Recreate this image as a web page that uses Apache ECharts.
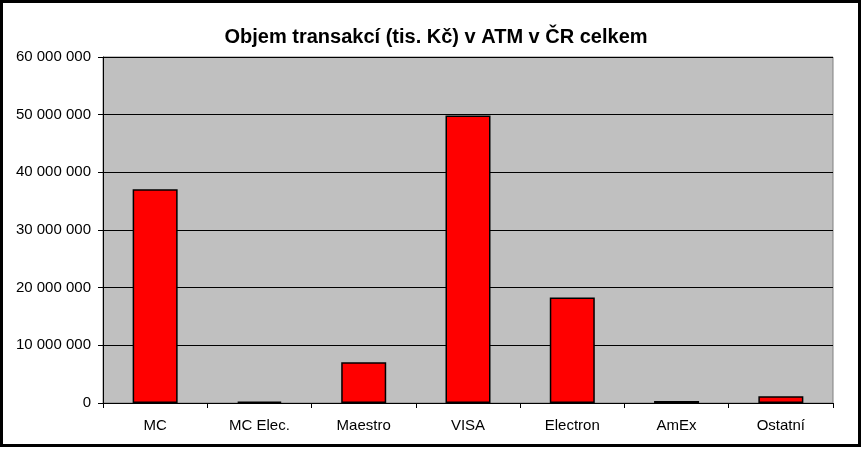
<!DOCTYPE html>
<html>
<head>
<meta charset="utf-8">
<script src="https://cdn.jsdelivr.net/npm/echarts@6/dist/echarts.min.js"></script>
<style>
    html, body { margin: 0; padding: 0; background: #fff; }
    #frame { position: absolute; left: 0; top: 0; width: 855px; height: 441px; border: 3px solid #000; }
    #chartDiv { position: absolute; left: 0; top: 0; width: 865px; height: 453px; }
</style>
</head>
<body>
<div id="frame"></div>
<div id="chartDiv"></div>
<script>
    // kategorie karet a objem transakcí (tis. Kč)
    var categories = ['MC', 'MC Elec.', 'Maestro', 'VISA', 'Electron', 'AmEx', 'Ostatní'];
    var objem = [37050000, 250000, 7050000, 49850000, 18300000, 350000, 1150000];

    function fmt(v) {
        return String(v).replace(/\B(?=(\d{3})+(?!\d))/g, ' ');
    }

    var chart = echarts.init(document.getElementById('chartDiv'));
    chart.setOption({
        animation: false,
        textStyle: { fontFamily: 'Liberation Sans, Arial, sans-serif' },
        title: {
            text: 'Objem transakcí (tis. Kč) v ATM v ČR celkem',
            left: 431, top: 22, textAlign: 'center',
            textStyle: { fontSize: 20, fontWeight: 'bold', color: '#000', fontFamily: 'Liberation Sans, Arial, sans-serif' }
        },
        grid: {
            left: 103, right: 32, top: 57, bottom: 50,
            show: true, backgroundColor: '#C0C0C0', borderColor: '#808080', borderWidth: 1
        },
        xAxis: {
            type: 'category',
            data: categories,
            axisLine: { lineStyle: { color: '#000', width: 1 } },
            axisTick: { show: true, alignWithLabel: false, length: 5, lineStyle: { color: '#000' } },
            axisLabel: { color: '#000', fontSize: 15, margin: 15 }
        },
        yAxis: {
            type: 'value',
            min: 0, max: 60000000, interval: 10000000,
            axisLine: { show: true, lineStyle: { color: '#000', width: 1 } },
            axisTick: { show: true, length: 5, lineStyle: { color: '#000' } },
            axisLabel: { color: '#000', fontSize: 15, margin: 12, formatter: fmt },
            splitLine: { lineStyle: { color: '#000', width: 1 } }
        },
        series: [{
            type: 'bar',
            data: objem,
            barWidth: 45,
            itemStyle: { color: '#FF0000', borderColor: '#000', borderWidth: 1.5 }
        }]
    });
</script>
</body>
</html>
